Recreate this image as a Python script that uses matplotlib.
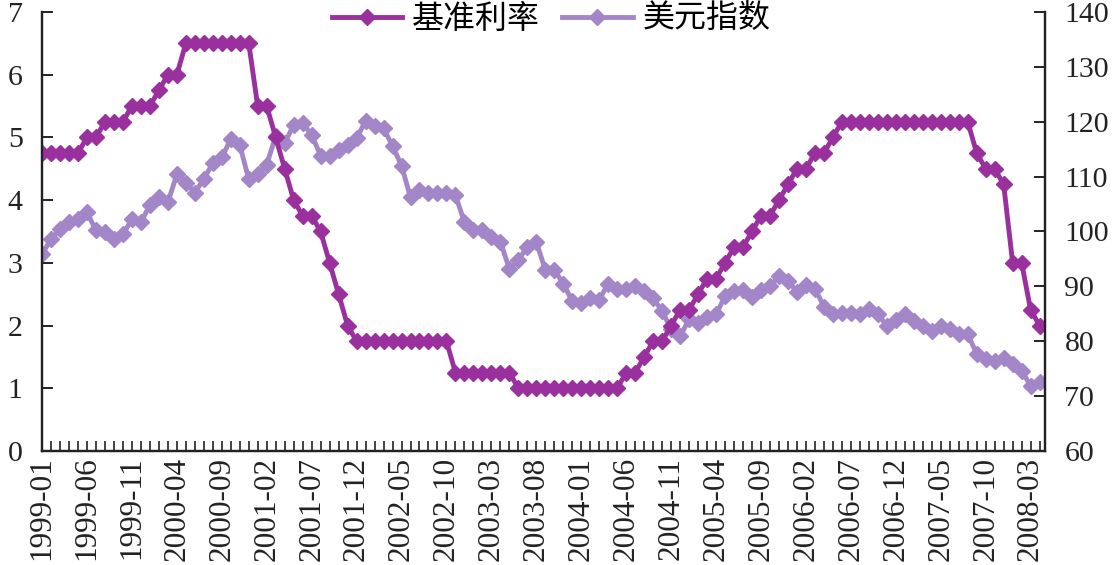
import matplotlib
matplotlib.use("Agg")
import matplotlib.pyplot as plt
import numpy as np

# month labels 1999-01 .. 2008-04
months = ["{:d}-{:02d}".format(1999 + i // 12, i % 12 + 1) for i in range(112)]

# fed funds target (left axis)
rate = [4.75, 4.75, 4.75, 4.75, 4.75, 5.0, 5.0, 5.25, 5.25, 5.25, 5.5, 5.5,
        5.5, 5.75, 6.0, 6.0, 6.5, 6.5, 6.5, 6.5, 6.5, 6.5, 6.5, 6.5,
        5.5, 5.5, 5.0, 4.5, 4.0, 3.75, 3.75, 3.5, 3.0, 2.5, 2.0, 1.75,
        1.75, 1.75, 1.75, 1.75, 1.75, 1.75, 1.75, 1.75, 1.75, 1.75, 1.25, 1.25,
        1.25, 1.25, 1.25, 1.25, 1.25, 1.0, 1.0, 1.0, 1.0, 1.0, 1.0, 1.0,
        1.0, 1.0, 1.0, 1.0, 1.0, 1.25, 1.25, 1.5, 1.75, 1.75, 2.0, 2.25,
        2.25, 2.5, 2.75, 2.75, 3.0, 3.25, 3.25, 3.5, 3.75, 3.75, 4.0, 4.25,
        4.5, 4.5, 4.75, 4.75, 5.0, 5.25, 5.25, 5.25, 5.25, 5.25, 5.25, 5.25,
        5.25, 5.25, 5.25, 5.25, 5.25, 5.25, 5.25, 5.25, 4.75, 4.5, 4.5, 4.25,
        3.0, 3.0, 2.25, 2.0]

# dollar index (right axis)
usd = [95.9, 98.6, 100.4, 101.7, 102.2, 103.5, 100.2, 99.9, 98.6, 99.5, 102.2, 101.7,
       104.8, 106.2, 105.3, 110.4, 108.9, 107.1, 109.5, 112.5, 113.5, 116.8, 115.8, 109.5,
       110.4, 112.2, 117.4, 116.1, 119.4, 119.7, 117.6, 113.8, 113.8, 114.9, 115.8, 117.0,
       120.1, 119.2, 118.8, 115.6, 112.0, 106.2, 107.5, 107.1, 107.1, 107.1, 106.6, 101.7,
       100.3, 100.3, 99.0, 98.1, 93.2, 94.8, 97.2, 98.1, 93.0, 93.0, 90.5, 87.3,
       86.9, 87.8, 87.6, 90.5, 89.6, 89.6, 90.0, 89.1, 87.8, 85.5, 82.2, 80.9,
       84.0, 83.3, 84.5, 84.9, 88.2, 89.1, 89.4, 88.0, 89.3, 90.0, 91.8, 91.0,
       89.0, 90.2, 89.6, 86.3, 85.0, 85.2, 85.2, 85.0, 85.8, 85.0, 82.8, 83.8,
       84.9, 83.6, 82.7, 81.8, 82.7, 82.2, 81.3, 81.3, 77.7, 76.8, 76.4, 77.0,
       75.9, 74.6, 71.9, 72.5]

dark = "#9a2f9e"
light = "#a386c8"
serif = "Liberation Serif"

fig = plt.figure(figsize=(11.18, 5.65), dpi=100)
ax = fig.add_axes([0.0376, 0.2018, 0.8971, 0.7770])
ax2 = ax.twinx()

x = np.arange(len(months))
l2, = ax2.plot(x, usd, color=light, lw=3.5, marker="D", ms=8.5, label="美元指数")
l1, = ax.plot(x, rate, color=dark, lw=3.5, marker="D", ms=8.5, label="基准利率")
ax.set_zorder(ax2.get_zorder() + 1)
ax.patch.set_visible(False)

ax.set_xlim(0, 111.6)
ax.set_ylim(0, 7)
ax2.set_ylim(60, 140)
ax.set_yticks(range(0, 8))
ax2.set_yticks(range(60, 141, 10))
ax.set_xticks(x)
ax.set_xticklabels([m if i % 5 == 0 else "" for i, m in enumerate(months)],
                   rotation=90, fontfamily=serif, fontsize=22.5)

for a in (ax, ax2):
    a.spines["top"].set_visible(False)
    for s in ("left", "right", "bottom"):
        a.spines[s].set_linewidth(1.6)
        a.spines[s].set_color("#222")
ax.tick_params(axis="x", direction="in", length=7, width=1.2, pad=4, colors="#222")
ax.tick_params(axis="y", direction="in", length=8, width=1.4, pad=14, labelsize=21.5, colors="#222")
ax2.tick_params(axis="y", direction="in", length=8, width=1.4, pad=14, labelsize=21.5, colors="#222")
for lab in ax.get_yticklabels() + ax2.get_yticklabels():
    lab.set_fontfamily(serif)

fig.legend([l1, l2], ["基准利率", "美元指数"], loc="center", bbox_to_anchor=(0.493, 0.966),
           ncol=2, frameon=False, handlelength=2.2, handletextpad=0.3, columnspacing=0.7,
           prop={"family": ["Noto Sans CJK SC", "DejaVu Sans"], "size": 23})

fig.savefig("out.png", dpi=100)
